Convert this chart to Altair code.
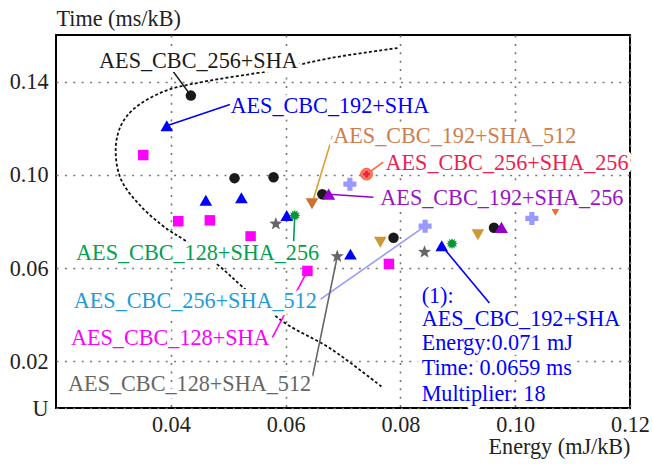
import math
import altair as alt
import pandas as pd

FONT = "Liberation Serif"
FS = 22.2

# ---------------- measured data (Energy mJ/kB, Time ms/kB) ----------------
black_circle_x = [0.0435, 0.0511, 0.0579, 0.0664, 0.0788, 0.0963]
black_circle_y = [0.1340, 0.0986, 0.0990, 0.0917, 0.0730, 0.0773]
blue_tri_x = [0.0393, 0.0461, 0.0523, 0.0602, 0.0713, 0.0872]
blue_tri_y = [0.1211, 0.0891, 0.0902, 0.0826, 0.0660, 0.0696]
magenta_sq_x = [0.0352, 0.0413, 0.0468, 0.0539, 0.0638, 0.0780]
magenta_sq_y = [0.1085, 0.0801, 0.0805, 0.0736, 0.0588, 0.0618]
gray_star_x = [0.0583, 0.0690, 0.0842]
gray_star_y = [0.0790, 0.0650, 0.0669]
green_burst_x = [0.0616, 0.0890]
green_burst_y = [0.0826, 0.0705]
lavender_cross_x = [0.0712, 0.0843, 0.1029]
lavender_cross_y = [0.0960, 0.0780, 0.0813]
brown_down_x = [0.0646]
brown_down_y = [0.0876]
gold_down_x = [0.0765, 0.0935]
gold_down_y = [0.0711, 0.0743]
red_down_x = [0.1070]
red_down_y = [0.0848]
orange_circle_x = [0.0741]
orange_circle_y = [0.1003]
purple_tri_x = [0.0675, 0.0976]
purple_tri_y = [0.0917, 0.0775]

# dashed frontier curve, read point by point
curve_x = [0.0795, 0.0678, 0.0579, 0.0452, 0.0388, 0.0336, 0.0313, 0.0304, 0.0313,
           0.0348, 0.0395, 0.0423, 0.0482, 0.0527, 0.0597, 0.0678, 0.0770]
curve_y = [0.1544, 0.1501, 0.1449, 0.1397, 0.1358, 0.1284, 0.1211, 0.1111, 0.0982,
           0.0865, 0.0765, 0.0722, 0.0614, 0.0515, 0.0368, 0.0255, 0.0086]

# labels
label_text = ["AES_CBC_256+SHA", "AES_CBC_192+SHA", "AES_CBC_192+SHA_512",
              "AES_CBC_256+SHA_256", "AES_CBC_192+SHA_256", "AES_CBC_128+SHA_256",
              "AES_CBC_256+SHA_512", "AES_CBC_128+SHA", "AES_CBC_128+SHA_512"]
label_x = [0.0275, 0.0504, 0.0683, 0.0774, 0.0765, 0.0235, 0.0231, 0.0226, 0.0221]
label_y = [0.1488, 0.1294, 0.1165, 0.1052, 0.0901, 0.0663, 0.0460, 0.0300, 0.0101]

info_lines = ["(1):", "AES_CBC_192+SHA", "Energy:0.071 mJ", "Time: 0.0659 ms", "Multiplier: 18"]
info_x = 0.0837
info_y = [0.0481, 0.0382, 0.0278, 0.0170, 0.0062]

# leader lines (label end -> point)
lead_x1 = [0.0404, 0.0503, 0.0682, 0.0770, 0.0753, 0.0614, 0.0661, 0.0577, 0.0645, 0.0955]
lead_y1 = [0.1444, 0.1302, 0.1168, 0.1055, 0.0904, 0.0714, 0.0467, 0.0303, 0.0112, 0.0450]
lead_x2 = [0.0435, 0.0393, 0.0646, 0.0741, 0.0675, 0.0616, 0.0843, 0.0638, 0.0690, 0.0872]
lead_y2 = [0.1340, 0.1211, 0.0876, 0.1003, 0.0917, 0.0826, 0.0780, 0.0588, 0.0650, 0.0696]

x_ticks = [0.04, 0.06, 0.08, 0.10, 0.12]
y_ticks = [0.0, 0.02, 0.06, 0.10, 0.14]

# ---------------- styles ----------------
label_colors = ["#1a1a1a", "#0000ff", "#cd7d4e", "#ee1f4f", "#9b12c8",
                "#00a050", "#1e9bd7", "#ff00ff", "#666666"]
lead_colors = ["#1a1a1a", "#0000ff", "#d9a036", "#ff6633", "#9900cc",
               "#00a050", "#9999ff", "#ff00ff", "#666666", "#0000ff"]


def star_path(n, inner, offset):
    p = []
    for i in range(2 * n):
        a = offset + i * math.pi / n
        r = 1.0 if i % 2 == 0 else inner
        p.append(f"{r*math.cos(a):.3f},{r*math.sin(a):.3f}")
    return "M" + "L".join(p) + "Z"


burst_path = star_path(12, 0.62, 0.0)
star5_path = star_path(5, 0.42, -math.pi / 2)

xs = alt.Scale(domain=[0.02, 0.12], nice=False, zero=False)
ys = alt.Scale(domain=[0.0, 0.16], nice=False, zero=False)

x_axis = alt.Axis(
    orient="bottom", values=x_ticks, format=".2f", title="Energy (mJ/kB)",
    titleAnchor="end", titleAlign="right", titleX=574, titleY=45,
    titleBaseline="alphabetic", labelPadding=5, labelFlush=False,
    labelOverlap=False)
y_axis = alt.Axis(
    orient="left", values=y_ticks, title="Time (ms/kB)",
    labelExpr="datum.value == 0 ? 'U' : format(datum.value, '.2f')",
    titleAngle=0, titleAlign="left", titleX=0, titleY=-10,
    titleBaseline="alphabetic", labelPadding=8, labelOverlap=False)


def X(f):
    return alt.X(f, scale=xs, axis=x_axis)


def Y(f):
    return alt.Y(f, scale=ys, axis=y_axis)


curve_df = pd.DataFrame({"x": curve_x, "y": curve_y, "o": list(range(len(curve_x)))})
curve = alt.Chart(curve_df).mark_line(
    color="#111111", strokeDash=[3, 2.2], strokeWidth=1.8, interpolate="catmull-rom"
).encode(x=X("x:Q"), y=Y("y:Q"), order="o:O")

lead_df = pd.DataFrame({"x": lead_x1, "y": lead_y1, "x2": lead_x2, "y2": lead_y2,
                        "k": [f"l{i}" for i in range(len(lead_x1))]})
leads = alt.Chart(lead_df).mark_rule(strokeWidth=1.6).encode(
    x=X("x:Q"), y=Y("y:Q"), x2="x2:Q", y2="y2:Q",
    color=alt.Color("k:N", scale=alt.Scale(domain=list(lead_df["k"]), range=lead_colors), legend=None),
)


def pts(xv, yv, shape, size, color, stroke=None):
    df = pd.DataFrame({"x": xv, "y": yv})
    kw = dict(shape=shape, size=size, filled=True, fill=color, opacity=1)
    if stroke:
        kw.update(stroke=stroke, strokeWidth=1)
    else:
        kw.update(strokeWidth=0)
    return alt.Chart(df).mark_point(**kw).encode(x=X("x:Q"), y=Y("y:Q"))


markers = [
    pts(magenta_sq_x, magenta_sq_y, "square", 110, "#ff00ff"),
    pts(gray_star_x, gray_star_y, star5_path, 190, "#666666"),
    pts(lavender_cross_x, lavender_cross_y, "cross", 170, "#9999ff"),
    pts(brown_down_x, brown_down_y, "triangle-down", 160, "#cc7033"),
    pts(gold_down_x, gold_down_y, "triangle-down", 160, "#cc9933"),
    pts(red_down_x, red_down_y, "triangle-down", 160, "#ff6633"),
    pts(black_circle_x, black_circle_y, "circle", 110, "#1a1a1a"),
    pts(purple_tri_x, purple_tri_y, "triangle-up", 170, "#9900cc"),
    pts(blue_tri_x, blue_tri_y, "triangle-up", 160, "#0000ff"),
    pts(green_burst_x, green_burst_y, burst_path, 130, "#009933"),
    pts(orange_circle_x, orange_circle_y, "circle", 140, "#ff7a5a", stroke="#ff5a3a"),
    pts(orange_circle_x, orange_circle_y, "cross", 45, "#e8204a"),
]

lab_df = pd.DataFrame({"t": label_text, "x": label_x, "y": label_y, "c": label_colors})
info_df = pd.DataFrame({"t": info_lines, "x": [info_x] * len(info_lines), "y": info_y,
                        "c": ["#0000ff"] * len(info_lines)})
txt_df = pd.concat([lab_df, info_df], ignore_index=True)

halo = alt.Chart(txt_df).mark_text(
    align="left", baseline="middle", font=FONT, fontSize=FS,
    fill="white", stroke="white", strokeWidth=8, strokeJoin="round"
).encode(x=X("x:Q"), y=Y("y:Q"), text="t:N")

texts = alt.Chart(txt_df).mark_text(
    align="left", baseline="middle", font=FONT, fontSize=FS
).encode(x=X("x:Q"), y=Y("y:Q"), text="t:N",
         color=alt.Color("c:N", scale=None))

chart = alt.layer(curve, leads, *markers, halo, texts).properties(
    width=574, height=373,
    autosize=alt.AutoSizeParams(type="none"),
    padding={"left": 56, "top": 35, "right": 23, "bottom": 56},
    background="white",
).configure_view(
    stroke="#000000", strokeWidth=2
).configure_axis(
    domain=False, ticks=False, grid=True, gridColor="#777777", gridDash=[2, 6.4],
    gridWidth=1.6, labelFont=FONT, labelFontSize=FS, labelColor="#222222",
    titleFont=FONT, titleFontSize=FS, titleFontWeight="normal", titleColor="#222222",
)

chart.save("out.html", embed_options={"renderer": "svg", "actions": False})
